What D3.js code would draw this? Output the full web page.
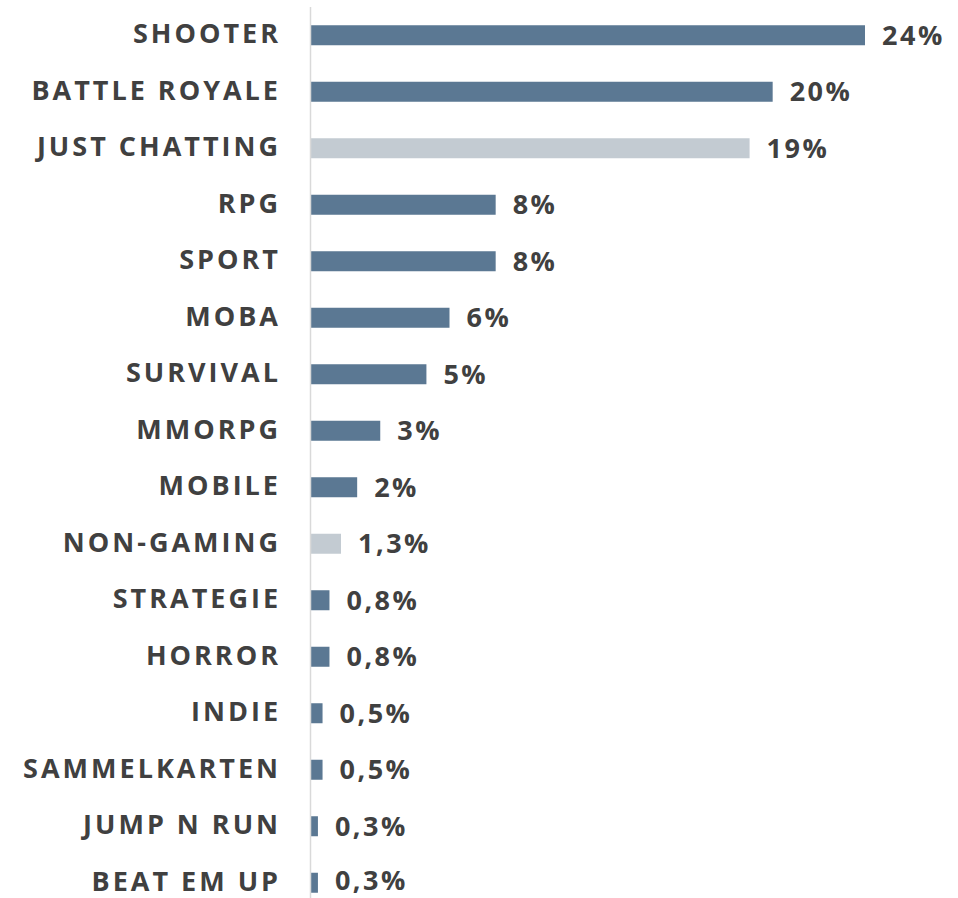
<!DOCTYPE html>
<html>
<head>
<meta charset="utf-8">
<script src="https://cdn.jsdelivr.net/npm/d3@7/dist/d3.min.js"></script>
<style>
  html, body { margin: 0; padding: 0; background: #ffffff; }
  svg { display: block; }
  text { font-family: "Open Sans", "Noto Sans", sans-serif; font-weight: 700; fill: #404040; }
</style>
</head>
<body>
<svg id="chart" width="958" height="898"></svg>
<script>
// Genre shares of watch time
const categories = ["SHOOTER", "BATTLE ROYALE", "JUST CHATTING", "RPG", "SPORT", "MOBA", "SURVIVAL",
  "MMORPG", "MOBILE", "NON-GAMING", "STRATEGIE", "HORROR", "INDIE", "SAMMELKARTEN", "JUMP N RUN", "BEAT EM UP"];
const shares = [24, 20, 19, 8, 8, 6, 5, 3, 2, 1.3, 0.8, 0.8, 0.5, 0.5, 0.3, 0.3];
const valueLabels = ["24%", "20%", "19%", "8%", "8%", "6%", "5%", "3%", "2%", "1,3%", "0,8%", "0,8%", "0,5%", "0,5%", "0,3%", "0,3%"];
// Non-game categories are shown in a muted tone
const nonGame = ["JUST CHATTING", "NON-GAMING"];

const width = 958, height = 898;
const svg = d3.select("#chart");
const x0 = 311;

const x = d3.scaleLinear().domain([0, 24]).range([x0, 865]);
const y = d3.scaleBand().domain(categories).range([7, 911]).paddingInner(0.646).paddingOuter(0.323);

const rows = categories.map((c, i) => ({ cat: c, v: shares[i], label: valueLabels[i] }));

// bars
svg.append("g").selectAll("rect").data(rows).join("rect")
  .attr("x", x(0))
  .attr("y", d => y(d.cat))
  .attr("width", d => x(d.v) - x(0))
  .attr("height", y.bandwidth())
  .attr("fill", d => nonGame.includes(d.cat) ? "#c3cbd2" : "#5b7893");

// category axis
const axis = svg.append("g")
  .attr("transform", `translate(${x0 - 0.5},0)`)
  .call(d3.axisLeft(y).tickSize(0).tickPadding(29.5));
axis.attr("font-family", null).attr("font-size", null);
axis.select(".domain").attr("d", "M0,7V898").attr("stroke", "#d9d9d9").attr("stroke-width", 1.5);
axis.selectAll(".tick text")
  .attr("font-size", 27)
  .attr("letter-spacing", "3px")
  .attr("fill", "#404040")
  .attr("dy", null)
  .attr("y", 8);

// value labels (kept inside the canvas at the bottom edge)
svg.append("g").selectAll("text").data(rows).join("text")
  .attr("x", d => x(d.v) + 17)
  .attr("y", d => Math.min(y(d.cat) + y.bandwidth() / 2 + 9.5, height - 8.5))
  .attr("font-size", 27)
  .attr("letter-spacing", "2.5px")
  .text(d => d.label);
</script>
</body>
</html>
